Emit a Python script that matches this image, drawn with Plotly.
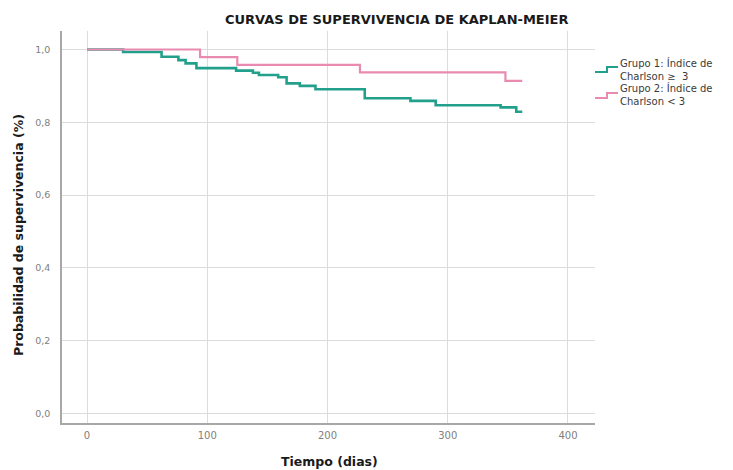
import plotly.graph_objects as go

# Data
t_g1 = [0, 30, 62, 76, 82, 91, 124, 138, 143, 159, 166, 177, 190, 231, 269, 290, 344, 357, 362]
s_g1 = [1.0, 0.993, 0.980, 0.971, 0.962, 0.949, 0.942, 0.936, 0.930, 0.924, 0.907, 0.900, 0.891,
        0.866, 0.859, 0.847, 0.841, 0.829, 0.829]
t_g2 = [0, 94, 125, 227, 348, 362]
s_g2 = [1.0, 0.979, 0.958, 0.937, 0.914, 0.914]

x_ticks = [0, 100, 200, 300, 400]
y_ticks = [0.0, 0.2, 0.4, 0.6, 0.8, 1.0]

title_text = "CURVAS DE SUPERVIVENCIA DE KAPLAN-MEIER"
x_title = "Tiempo (dias)"
y_title = "Probabilidad de supervivencia (%)"
legend_g1 = "Grupo 1: Índice de<br>Charlson ≥\u00a0 3"
legend_g2 = "Grupo 2: Índice de<br>Charlson < 3"

teal = "#22a08b"
pink = "#e98ab0"
font_family = "'DejaVu Sans', sans-serif"

# page body has an 8px margin: work in window pixels and subtract it
OFF = 8
W, H = 733 - OFF, 470 - OFF
L, R, T, B = 62 - OFF, 595 - OFF, 31 - OFF, 423 - OFF


def px(x):
    return (x - OFF - L) / (R - L)


def py(y):
    return (B - (y - OFF)) / (B - T)


fig = go.Figure()
fig.add_trace(go.Scatter(x=t_g1, y=s_g1, mode="lines", line=dict(color=teal, width=2.6, shape="hv"),
                         showlegend=False, hoverinfo="skip"))
fig.add_trace(go.Scatter(x=t_g2, y=s_g2, mode="lines", line=dict(color=pink, width=2.2, shape="hv"),
                         showlegend=False, hoverinfo="skip"))

# Manual legend with step icons
for col, ybase, txt, ytxt in [(teal, 72, legend_g1, 69), (pink, 98, legend_g2, 95)]:
    path = (f"M {px(595)} {py(ybase)} L {px(607)} {py(ybase)} L {px(607)} {py(ybase-5)} "
            f"L {px(618)} {py(ybase-5)}")
    fig.add_shape(type="path", path=path, xref="paper", yref="paper",
                  line=dict(color=col, width=2))
    fig.add_annotation(x=px(619), y=py(ytxt), xref="paper", yref="paper", text=txt,
                       showarrow=False, xanchor="left", yanchor="middle", align="left",
                       borderpad=0,
                       font=dict(family=font_family, size=10, color="#3a3a3a"))

fig.add_annotation(x=px(396), y=py(19), xref="paper", yref="paper", text=f"<b>{title_text}</b>",
                   showarrow=False, xanchor="center", yanchor="middle",
                   font=dict(family=font_family, size=13, color="#1a1a1a"))
fig.add_annotation(x=px(329), y=py(461), xref="paper", yref="paper", text=f"<b>{x_title}</b>",
                   showarrow=False, xanchor="center", yanchor="middle",
                   font=dict(family=font_family, size=12.5, color="#1a1a1a"))
fig.add_annotation(x=px(18), y=py(235), xref="paper", yref="paper", text=f"<b>{y_title}</b>",
                   showarrow=False, xanchor="center", yanchor="middle", textangle=-90,
                   font=dict(family=font_family, size=12.5, color="#1a1a1a"))

fig.update_layout(
    width=W, height=H,
    margin=dict(l=L, r=W - R, t=T, b=H - B),
    paper_bgcolor="white", plot_bgcolor="white",
    separators=",.",
    font=dict(family=font_family),
    xaxis=dict(range=[-20.8, 422.5], tickvals=x_ticks, ticks="", showgrid=True,
               gridcolor="#dcdcdc", gridwidth=1, zeroline=False,
               showline=True, linecolor="#a8a8a8", linewidth=1.5,
               tickfont=dict(size=10, color="#808080"), ticklabelstandoff=2),
    yaxis=dict(range=[-0.0262, 1.0509], tickvals=y_ticks, tickformat=".1f", ticks="",
               showgrid=True, gridcolor="#dcdcdc", gridwidth=1, zeroline=False,
               showline=True, linecolor="#a8a8a8", linewidth=1.5,
               tickfont=dict(size=9.5, color="#808080"), ticklabelstandoff=8),
)

fig.write_html("out.html")
